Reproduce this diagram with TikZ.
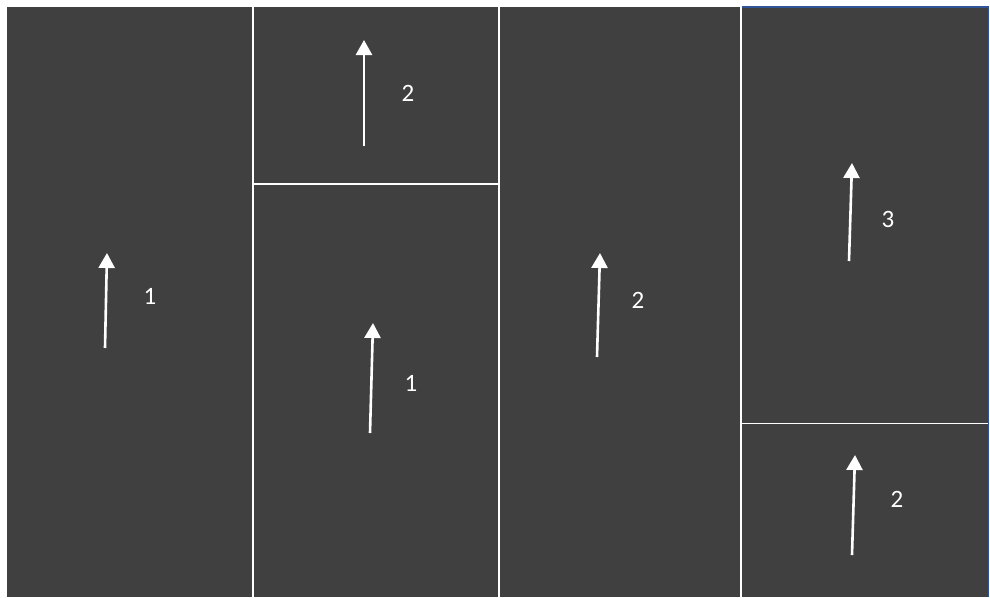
\documentclass[tikz,border=0pt]{standalone}
\usepackage{fontspec}
\setmainfont{Carlito}
\usepackage{xcolor}
\usetikzlibrary{arrows.meta,positioning}
\definecolor{stackdark}{HTML}{404040}
\definecolor{stackedge}{HTML}{2F5597}
\tikzset{
  stackpanel/.style={
    rectangle,
    draw=none,
    fill=stackdark,
    anchor=north west,
    inner sep=0pt
  },
  stacklabel/.style={text=white, font=\fontsize{25}{28}\selectfont, inner sep=0pt},
  stackarrow/.style={-{Triangle[length=15pt,width=16pt]}, line width=2.6pt, draw=white}
}

\begin{document}
\begin{tikzpicture}[x=1pt, y=-1pt]
\useasboundingbox (0,0) rectangle (990,597);
\fill[white] (0,0) rectangle (990,597);
% panels
\node[stackpanel, minimum width=245pt, minimum height=590pt] (colA) at (7,7) {};
\node[stackpanel, minimum width=244pt, minimum height=176pt] (colBtop) at (254,7) {};
\node[stackpanel, minimum width=244pt, minimum height=412pt] (colBbot) at (254,185) {};
\node[stackpanel, minimum width=240pt, minimum height=590pt] (colC) at (500,7) {};
\node[stackpanel, minimum width=246pt, minimum height=416pt] (colDtop) at (742,7) {};
\node[stackpanel, minimum width=246pt, minimum height=173pt] (colDbot) at (742,424) {};
\draw[stackedge, line width=1.5pt] (colDtop.north west) -- (colDtop.north east) -- (colDbot.south east);
% arrows
\coordinate (aTail) at (105,348);
\coordinate (aHead) at (107,253);
\coordinate (bTail) at (364,146);
\coordinate (bHead) at (364,40);
\coordinate (cTail) at (370,433);
\coordinate (cHead) at (373,323);
\coordinate (dTail) at (597,357);
\coordinate (dHead) at (600,253);
\coordinate (eTail) at (849,261);
\coordinate (eHead) at (852,163);
\coordinate (fTail) at (852,555);
\coordinate (fHead) at (855,455);
\draw[stackarrow] (aTail) -- (aHead);
\draw[stackarrow] (bTail) -- (bHead);
\draw[stackarrow] (cTail) -- (cHead);
\draw[stackarrow] (dTail) -- (dHead);
\draw[stackarrow] (eTail) -- (eHead);
\draw[stackarrow] (fTail) -- (fHead);
% labels
\node[stacklabel] (aNum) at (150,296) {1};
\node[stacklabel] (bNum) at (408,93) {2};
\node[stacklabel] (cNum) at (411,383) {1};
\node[stacklabel] (dNum) at (638,300) {2};
\node[stacklabel] (eNum) at (888,219) {3};
\node[stacklabel] (fNum) at (897,499) {2};
\end{tikzpicture}
\end{document}
